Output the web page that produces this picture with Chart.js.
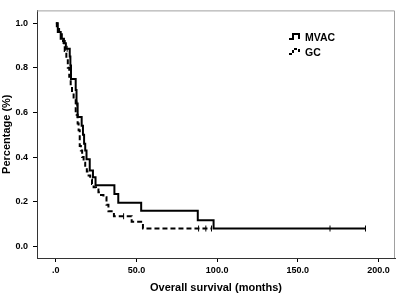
<!DOCTYPE html>
<html>
<head>
<meta charset="utf-8">
<script src="https://cdn.jsdelivr.net/npm/chart.js@4.4.1/dist/chart.umd.min.js"></script>
<style>
  body{margin:0;background:#fff;}
  #box{width:400px;height:295px;}
</style>
</head>
<body>
<div id="box"><canvas id="myChart" width="400" height="295"></canvas></div>
<script>
// Kaplan-Meier curves (months, survival)
const seriesNames = ["MVAC", "GC"];

const mvacT = [0, 1.2, 3, 5, 6.2, 8.6, 9.0, 9.4, 12.3, 12.8, 13.5, 16, 16.8, 17.5, 18.2, 19, 21, 23, 24.6, 36.3, 38.7, 52.9, 88, 97.8, 192];
const mvacS = [1.0, 0.96, 0.93, 0.91, 0.885, 0.85, 0.81, 0.75, 0.70, 0.64, 0.58, 0.54, 0.50, 0.46, 0.43, 0.39, 0.34, 0.31, 0.274, 0.235, 0.196, 0.16, 0.117, 0.08, 0.08];

const gcT = [0, 0.6, 2, 3.7, 5.5, 6.5, 7.4, 8.3, 9.2, 10, 11, 12.3, 12.9, 13.5, 14.1, 14.8, 15.5, 16.3, 17.2, 18.2, 19.2, 20.3, 21.3, 22.4, 23.4, 24.9, 26.4, 28, 29.5, 31.4, 32.6, 36, 47, 54, 96.5];
const gcS = [1.0, 0.98, 0.95, 0.92, 0.875, 0.84, 0.80, 0.76, 0.72, 0.69, 0.66, 0.60, 0.59, 0.55, 0.52, 0.45, 0.43, 0.40, 0.375, 0.355, 0.335, 0.317, 0.30, 0.28, 0.265, 0.255, 0.243, 0.23, 0.22, 0.187, 0.157, 0.135, 0.11, 0.08, 0.08];

// censored cases (tick marks)
const mvacCensT = [7, 13, 170, 192];
const mvacCensS = [0.885, 0.64, 0.08, 0.08];
const gcCensT = [4.5, 42, 88.5, 93, 96.5];
const gcCensS = [0.92, 0.135, 0.08, 0.08, 0.08];

const xTicks = [0, 50, 100, 150, 200];
const yTicks = [0, 0.2, 0.4, 0.6, 0.8, 1.0];

function pts(t, s){
    let out = [];
    for(let i=0;i<t.length;i++){
        out.push({x:t[i], y:s[i]});
    }
    return out;
}

const FONT = "'Liberation Sans', Arial, sans-serif";

// top/right frame + legend inside the plot
const extras = {
    id: 'extras',
    afterDraw(chart){
        const ctx = chart.ctx;
        const a = chart.chartArea;
        ctx.save();
        ctx.strokeStyle = '#a0a0a0';
        ctx.lineWidth = 1;
        ctx.beginPath();
        ctx.moveTo(a.left, a.top + 0.5);
        ctx.lineTo(a.right - 0.5, a.top + 0.5);
        ctx.lineTo(a.right - 0.5, a.bottom);
        ctx.stroke();

        // legend
        let lx = 289, ly = 39;
        for(let i=0;i<seriesNames.length;i++){
            let y = ly + i*15;
            ctx.strokeStyle = '#000';
            ctx.lineWidth = 2;
            ctx.setLineDash(i==0 ? [] : [3,2]);
            ctx.beginPath();
            ctx.moveTo(lx, y);
            ctx.lineTo(lx+4, y);
            ctx.lineTo(lx+4, y-5);
            ctx.lineTo(lx+10, y-5);
            ctx.lineTo(lx+10, y);
            ctx.stroke();
            ctx.setLineDash([]);
            ctx.fillStyle = '#000';
            ctx.font = "bold 10.5px " + FONT;
            ctx.textBaseline = 'middle';
            ctx.fillText(seriesNames[i], lx+16, y-1);
        }
        ctx.restore();
    }
};

function graficos(){
    const ctx = document.getElementById('myChart').getContext('2d');
    new Chart(ctx, {
        type: 'line',
        data: {
            datasets: [{
                label: seriesNames[0],
                data: pts(mvacT, mvacS),
                borderColor: '#000',
                borderWidth: 2,
                stepped: true,
                pointRadius: 0,
                fill: false
            },{
                label: seriesNames[1],
                data: pts(gcT, gcS),
                borderColor: '#000',
                borderWidth: 2,
                borderDash: [5,3],
                stepped: true,
                pointRadius: 0,
                fill: false
            },{
                label: 'c1',
                type: 'scatter',
                data: pts(mvacCensT, mvacCensS),
                pointStyle: 'line',
                rotation: 90,
                pointRadius: 3,
                borderColor: '#000',
                borderWidth: 1,
                showLine: false
            },{
                label: 'c2',
                type: 'scatter',
                data: pts(gcCensT, gcCensS),
                pointStyle: 'line',
                rotation: 90,
                pointRadius: 3,
                borderColor: '#000',
                borderWidth: 1,
                showLine: false
            }]
        },
        options: {
            responsive: false,
            animation: false,
            layout: { padding: { top: 3, right: 2, left: 0, bottom: 0 } },
            plugins: { legend: { display: false }, tooltip: { enabled: false } },
            scales: {
                x: {
                    type: 'linear',
                    min: -11.7,
                    max: 210.3,
                    afterBuildTicks: s => { s.ticks = xTicks.map(v => ({value: v})); },
                    afterFit: s => { s.height = 37; },
                    grid: { drawOnChartArea: false, tickLength: 4, tickColor: '#000' },
                    border: { color: '#333', width: 1 },
                    ticks: {
                        color: '#000',
                        padding: 3,
                        maxRotation: 0,
                        font: { family: FONT, size: 9, weight: 'bold' },
                        callback: v => v == 0 ? '.0' : v.toFixed(1)
                    },
                    title: {
                        display: true,
                        text: 'Overall survival (months)',
                        color: '#000',
                        padding: 0,
                        font: { family: FONT, size: 11, weight: 'bold' }
                    }
                },
                y: {
                    min: -0.052,
                    max: 1.057,
                    afterBuildTicks: s => { s.ticks = yTicks.map(v => ({value: v})); },
                    afterFit: s => { s.width = 37; },
                    grid: { drawOnChartArea: false, tickLength: 4, tickColor: '#000' },
                    border: { color: '#333', width: 1 },
                    ticks: {
                        color: '#000',
                        padding: 5,
                        font: { family: FONT, size: 9, weight: 'bold' },
                        callback: v => v.toFixed(1)
                    },
                    title: {
                        display: true,
                        text: 'Percentage (%)',
                        color: '#000',
                        padding: 0,
                        font: { family: FONT, size: 11, weight: 'bold' }
                    }
                }
            }
        },
        plugins: [extras]
    });
}

window.addEventListener("load", graficos);
</script>
</body>
</html>
